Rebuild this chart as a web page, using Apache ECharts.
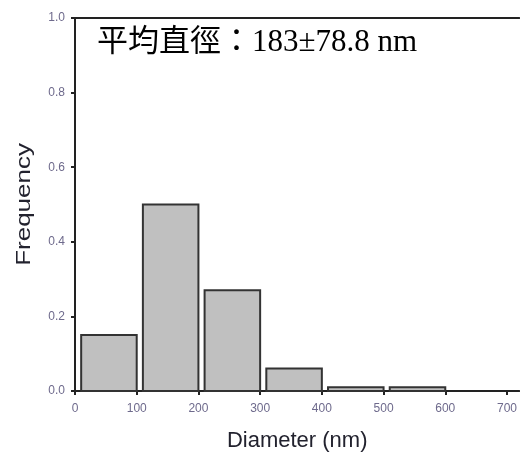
<!DOCTYPE html>
<html>
<head>
<meta charset="utf-8">
<script src="https://cdn.jsdelivr.net/npm/echarts@6/dist/echarts.min.js"></script>
<style>
  html, body { margin: 0; padding: 0; background: #fff; }
  #chart { width: 520px; height: 462px; }
</style>
</head>
<body>
<div id="chart"></div>
<script>
// Histogram bins (nm) and their relative frequencies
const binStarts = [0, 100, 200, 300, 400, 500];
const binEnds = [100, 200, 300, 400, 500, 600];
const frequencies = [0.15, 0.50, 0.27, 0.06, 0.01, 0.01];
const xTicks = [0, 100, 200, 300, 400, 500, 600, 700];
const yTicks = [0.0, 0.2, 0.4, 0.6, 0.8, 1.0];
const annotation = '平均直徑：183±78.8 nm';

const barGap = 10;          // blank space at the left of each bin, in nm
const tickColor = '#6e6a8c';
const lineColor = '#222';

const bins = binStarts.map((s, i) => [s, binEnds[i], frequencies[i]]);

const chart = echarts.init(document.getElementById('chart'), null, { renderer: 'canvas' });

chart.setOption({
  backgroundColor: '#fff',
  animation: false,
  grid: { left: 75, right: 0, top: 18, bottom: 71 },
  title: {
    text: annotation,
    left: 92,
    top: 22,
    textStyle: {
      fontFamily: "'Liberation Serif', 'Noto Sans CJK TC', serif",
      fontSize: 31,
      fontWeight: 'normal',
      color: '#000'
    }
  },
  xAxis: [{
    type: 'value',
    min: 0,
    max: 720,
    interval: 100,
    name: 'Diameter (nm)',
    nameLocation: 'middle',
    nameGap: 39,
    nameTextStyle: { fontFamily: 'Liberation Sans, Arial', fontSize: 22, color: '#22222e' },
    splitLine: { show: false },
    axisLine: { lineStyle: { color: lineColor, width: 2 } },
    axisTick: { length: 4, lineStyle: { color: lineColor, width: 2 } },
    axisLabel: {
      showMaxLabel: false,
      margin: 12,
      fontFamily: 'Liberation Sans, Arial',
      fontSize: 12,
      color: tickColor,
      formatter: v => (xTicks.includes(v) ? String(v) : '')
    }
  }, {
    type: 'value',
    position: 'top',
    min: 0,
    max: 720,
    axisLine: { show: true, onZero: false, lineStyle: { color: lineColor, width: 2 } },
    axisTick: { show: false },
    axisLabel: { show: false },
    splitLine: { show: false }
  }],
  yAxis: {
    type: 'value',
    min: 0,
    max: 1,
    interval: 0.2,
    splitLine: { show: false },
    axisLine: { show: true, lineStyle: { color: lineColor, width: 2 } },
    axisTick: { show: true, length: 4, lineStyle: { color: lineColor, width: 2 } },
    axisLabel: {
      margin: 10,
      fontFamily: 'Liberation Sans, Arial',
      fontSize: 12,
      color: tickColor,
      formatter: v => yTicks.find(t => Math.abs(t - v) < 1e-9).toFixed(1)
    }
  },
  graphic: [{
    type: 'text',
    left: 14,
    top: 143,
    rotation: Math.PI / 2,
    scaleX: 1.3,
    style: {
      text: 'Frequency',
      fontFamily: 'Liberation Sans, Arial',
      fontSize: 20,
      fill: '#22222e'
    }
  }],
  series: [{
    type: 'custom',
    xAxisIndex: 0,
    yAxisIndex: 0,
    data: bins,
    renderItem: function (params, api) {
      const topLeft = api.coord([api.value(0) + barGap, api.value(2)]);
      const bottomRight = api.coord([api.value(1), 0]);
      return {
        type: 'rect',
        shape: {
          x: topLeft[0],
          y: topLeft[1],
          width: bottomRight[0] - topLeft[0],
          height: bottomRight[1] - topLeft[1]
        },
        style: { fill: '#c0c0c0', stroke: '#333', lineWidth: 2 }
      };
    }
  }]
});
</script>
</body>
</html>
